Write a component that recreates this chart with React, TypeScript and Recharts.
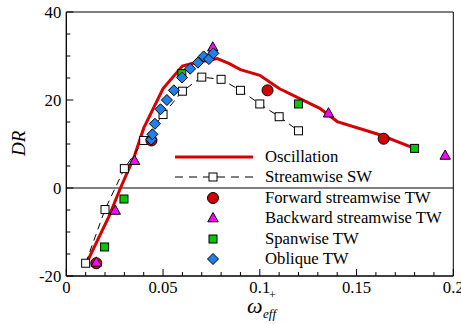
import React from "react";
import { ScatterChart, Scatter, XAxis, YAxis, ReferenceLine, ReferenceArea, Legend } from "recharts";

// Oscillation (solid red line)
const oscW = [0.010, 0.022, 0.028, 0.035, 0.040, 0.050, 0.060, 0.065, 0.078, 0.084, 0.090, 0.100, 0.110, 0.131, 0.140, 0.162, 0.180];
const oscDR = [-17.5, -6.5, 0, 7, 13.6, 22.6, 27.7, 28.3, 29.4, 28.3, 26.9, 25.6, 22.6, 18.1, 15.1, 12.1, 9.0];

// Streamwise SW (dashed, open squares)
const swW = [0.01, 0.02, 0.03, 0.04, 0.05, 0.06, 0.07, 0.08, 0.09, 0.10, 0.11, 0.12];
const swDR = [-17.1, -4.9, 4.4, 10.8, 16.7, 22.0, 25.2, 24.7, 22.2, 19.1, 16.2, 13.0];

// travelling waves
const fwdW = [0.0155, 0.044, 0.104, 0.164];
const fwdDR = [-17.1, 10.8, 22.2, 11.2];
const bwdW = [0.0155, 0.0253, 0.0353, 0.0757, 0.1355, 0.1958];
const bwdDR = [-16.9, -5.1, 6.2, 32.0, 17.0, 7.4];
const spanW = [0.0198, 0.0298, 0.0597, 0.12, 0.18];
const spanDR = [-13.4, -2.5, 26.0, 19.1, 9.0];
const oblW = [0.0439, 0.0445, 0.0458, 0.0487, 0.052, 0.0556, 0.0598, 0.064, 0.068, 0.071, 0.0737, 0.076];
const oblDR = [11.0, 12.2, 14.6, 17.9, 20.0, 22.2, 25.1, 27.1, 28.5, 29.9, 29.3, 30.6];

const xTicks = [0, 0.01, 0.02, 0.03, 0.04, 0.05, 0.06, 0.07, 0.08, 0.09, 0.1, 0.11, 0.12, 0.13, 0.14, 0.15, 0.16, 0.17, 0.18, 0.19, 0.2];
const yTicks = [-20, -15, -10, -5, 0, 5, 10, 15, 20, 25, 30, 35, 40];

const zip = (xs: number[], ys: number[]) => xs.map((x, i) => ({ x, y: ys[i] }));

const FONT = "Liberation Serif, DejaVu Serif, serif";
const RED = "#d40000";
const MAGENTA = "#ff00ff";
const GREEN = "#00c800";
const BLUE = "#1e80e8";

const circleMark = (cx: number, cy: number) => (
  <circle cx={cx} cy={cy} r={5.5} fill={RED} stroke="#000" strokeWidth={1} />
);
const triMark = (cx: number, cy: number) => (
  <polygon points={`${cx},${cy - 5.5} ${cx - 5.2},${cy + 3.8} ${cx + 5.2},${cy + 3.8}`} fill={MAGENTA} stroke="#000" strokeWidth={1} />
);
const greenMark = (cx: number, cy: number) => (
  <rect x={cx - 4} y={cy - 4} width={8} height={8} fill={GREEN} stroke="#000" strokeWidth={1} />
);
const openMark = (cx: number, cy: number) => (
  <rect x={cx - 4} y={cy - 4} width={8} height={8} fill="#fff" stroke="#000" strokeWidth={1} />
);
const diaMark = (cx: number, cy: number) => (
  <polygon points={`${cx},${cy - 5.5} ${cx + 5.5},${cy} ${cx},${cy + 5.5} ${cx - 5.5},${cy}`} fill={BLUE} stroke="#000" strokeWidth={1} />
);

const XTick = (props: any) => {
  const { x, y, payload, index } = props;
  const major = index % 5 === 0;
  return (
    <g>
      <line x1={x} x2={x} y1={y} y2={y - (major ? 7 : 4)} stroke="#000" strokeWidth={1} />
      {major && (
        <text x={x} y={y + 17} textAnchor="middle" style={{ fontFamily: FONT }} fontSize={16.7} fill="#000">
          {String(payload.value)}
        </text>
      )}
    </g>
  );
};

const YTick = (props: any) => {
  const { x, y, payload, index } = props;
  const major = index % 4 === 0;
  return (
    <g>
      <line x1={x} x2={x + (major ? 7 : 4)} y1={y} y2={y} stroke="#000" strokeWidth={1} />
      {major && (
        <text x={x - 5} y={y + 6} textAnchor="end" style={{ fontFamily: FONT }} fontSize={16.7} fill="#000">
          {String(payload.value)}
        </text>
      )}
    </g>
  );
};

const XLabel = (props: any) => {
  const vb = props.viewBox;
  const x0 = vb.x + vb.width * 0.467;
  const base = vb.y + 37;
  return (
    <g style={{ fontFamily: FONT }} fill="#000">
      <text x={x0} y={base} fontSize={22} fontStyle="italic">ω</text>
      <text x={x0 + 16} y={base + 5} fontSize={13} fontStyle="italic">eff</text>
      <text x={x0 + 22} y={base - 14} fontSize={12}>+</text>
    </g>
  );
};

const YLabel = (props: any) => {
  const vb = props.viewBox;
  const cy = vb.y + vb.height * 0.497;
  return (
    <text
      x={19}
      y={cy}
      transform={`rotate(-90, 19, ${cy})`}
      textAnchor="middle"
      dominantBaseline="central"
      style={{ fontFamily: FONT }}
      fontSize={19}
      fontStyle="italic"
      fill="#000"
    >
      DR
    </text>
  );
};

const legendRows = [
  { name: "Oscillation", kind: "line" },
  { name: "Streamwise SW", kind: "sw" },
  { name: "Forward streamwise TW", kind: "circle" },
  { name: "Backward streamwise TW", kind: "tri" },
  { name: "Spanwise TW", kind: "green" },
  { name: "Oblique TW", kind: "dia" },
];

const LegendIcon = ({ kind }: { kind: string }) => {
  const cx = 38;
  const cy = 10;
  return (
    <svg width={78} height={20} style={{ display: "block", overflow: "visible" }}>
      {kind === "line" && <line x1={0} x2={78} y1={cy} y2={cy} stroke={RED} strokeWidth={3} />}
      {kind === "sw" && (
        <>
          <line x1={0} x2={78} y1={cy} y2={cy} stroke="#000" strokeWidth={1} strokeDasharray="8 6" />
          {openMark(cx, cy)}
        </>
      )}
      {kind === "circle" && circleMark(cx, cy)}
      {kind === "tri" && triMark(cx, cy)}
      {kind === "green" && greenMark(cx, cy)}
      {kind === "dia" && diaMark(cx, cy)}
    </svg>
  );
};

const LegendContent = () => (
  <div style={{ fontFamily: FONT, fontSize: 16.7, color: "#000" }}>
    {legendRows.map((r) => (
      <div key={r.name} style={{ display: "flex", alignItems: "center", height: 20.4 }}>
        <LegendIcon kind={r.kind} />
        <span style={{ marginLeft: 12, whiteSpace: "nowrap", lineHeight: "20px" }}>{r.name}</span>
      </div>
    ))}
  </div>
);

export default function App() {
  return (
    <div style={{ position: "absolute", left: 0, top: 0, background: "#fff", fontFamily: FONT }}>
      <ScatterChart width={461} height={324} margin={{ top: 12, right: 7.7, left: 0, bottom: 0 }}>
        <XAxis
          type="number"
          dataKey="x"
          domain={[0, 0.2]}
          ticks={xTicks}
          interval={0}
          tickSize={0}
          tickMargin={0}
          tickLine={false}
          tick={<XTick />}
          axisLine={{ stroke: "#000" }}
          height={48}
          allowDataOverflow
          label={<XLabel />}
        />
        <YAxis
          type="number"
          dataKey="y"
          domain={[-20, 40]}
          ticks={yTicks}
          interval={0}
          tickSize={0}
          tickMargin={0}
          tickLine={false}
          tick={<YTick />}
          axisLine={{ stroke: "#000" }}
          width={66.3}
          allowDataOverflow
          label={<YLabel />}
        />
        <ReferenceArea x1={0} x2={0.2} y1={-20} y2={40} fill="none" stroke="#000" strokeWidth={1} />
        <ReferenceLine y={0} stroke="#000" strokeWidth={1} />
        <Scatter
          name="Oscillation"
          data={zip(oscW, oscDR)}
          fill={RED}
          line={{ stroke: RED, strokeWidth: 3 }}
          shape={() => <g />}
          isAnimationActive={false}
        />
        <Scatter
          name="Streamwise SW"
          data={zip(swW, swDR)}
          fill="#000"
          line={{ stroke: "#000", strokeWidth: 1, strokeDasharray: "7 5" }}
          shape={(p: any) => openMark(p.cx, p.cy)}
          isAnimationActive={false}
        />
        <Scatter name="Forward streamwise TW" data={zip(fwdW, fwdDR)} shape={(p: any) => circleMark(p.cx, p.cy)} isAnimationActive={false} />
        <Scatter name="Backward streamwise TW" data={zip(bwdW, bwdDR)} shape={(p: any) => triMark(p.cx, p.cy)} isAnimationActive={false} />
        <Scatter name="Spanwise TW" data={zip(spanW, spanDR)} shape={(p: any) => greenMark(p.cx, p.cy)} isAnimationActive={false} />
        <Scatter name="Oblique TW" data={zip(oblW, oblDR)} shape={(p: any) => diaMark(p.cx, p.cy)} isAnimationActive={false} />
        <Legend
          layout="vertical"
          align="center"
          verticalAlign="middle"
          content={<LegendContent />}
          wrapperStyle={{ left: 175, top: 146.8, width: 286, height: 124 }}
        />
      </ScatterChart>
    </div>
  );
}
